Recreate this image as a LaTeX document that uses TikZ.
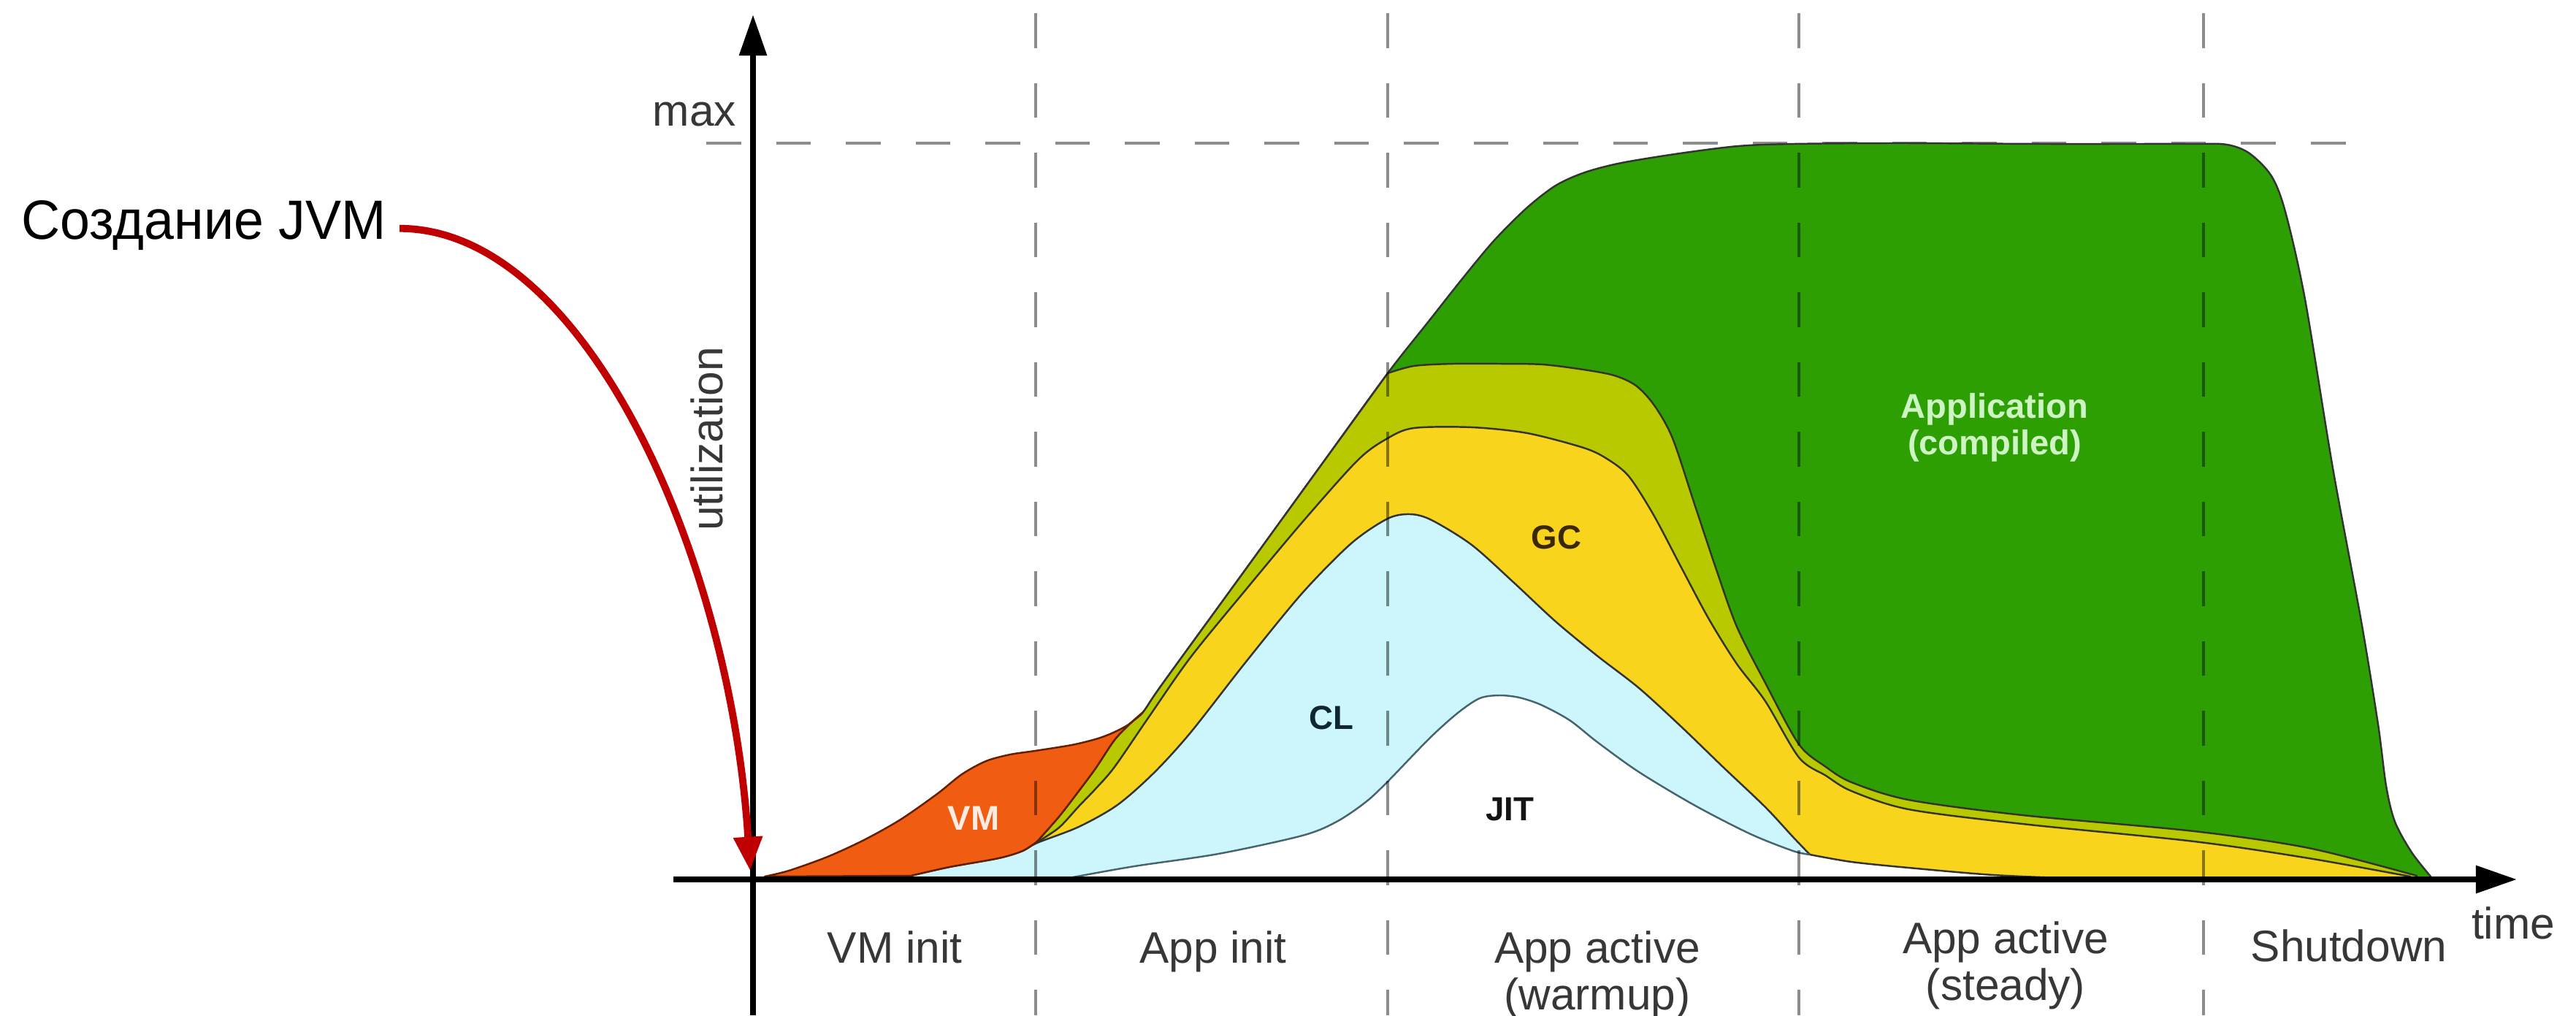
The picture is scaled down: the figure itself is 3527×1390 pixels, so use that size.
\documentclass[tikz,border=0pt]{standalone}
\usepackage{fontspec}
\setmainfont{Liberation Sans}
\newfontfamily\calloutfont[FakeStretch=0.97]{Liberation Sans}
\usetikzlibrary{arrows.meta}

\definecolor{appgreen}{RGB}{46,159,2}
\definecolor{gcolive}{RGB}{184,201,0}
\definecolor{gcyellow}{RGB}{248,212,28}
\definecolor{clcyan}{RGB}{204,246,251}
\definecolor{vmorange}{RGB}{240,92,18}
\definecolor{vmedge}{RGB}{100,30,0}
\definecolor{jitline}{RGB}{70,100,110}
\definecolor{jvmred}{RGB}{192,0,0}
\definecolor{labelgray}{RGB}{55,55,55}
\definecolor{apptext}{RGB}{205,245,195}

\begin{document}
\begin{tikzpicture}[x=0.005cm,y=-0.005cm,
  area/.style={draw=black!80, line width=0.35pt, line join=round},
  phase/.style={draw=black, draw opacity=0.45, line width=0.5pt, dash pattern=on 6.8pt off 6.8pt},
  axisline/.style={line width=1.1pt, -{Triangle[length=8pt,width=5.2pt]}},
  lbl/.style={font=\fontsize{8.6}{10}\selectfont, text=labelgray, inner sep=0pt},
  blbl/.style={font=\fontsize{6.5}{7}\selectfont\bfseries, inner sep=0pt},
]
\useasboundingbox (0,0) rectangle (3527,1390);

% level of full utilisation
\draw[phase] (967,196) -- (3240,196);

% Application (compiled): outer envelope
\filldraw[area, fill=appgreen] plot[smooth] coordinates {(1420,1152) (1450,1118) (1477,1083) (1500,1052) (1526,1013) (1548,990) (1565,975) (1591,937) (1700,787) (1800,649) (1900,511) (1956,440) (2001,383) (2045,330) (2090,285) (2130,254) (2170,236) (2220,223) (2300,210) (2380,200) (2456,197) (2600,196) (2800,197) (3000,197) (3049,198) (3080,210) (3110,241) (3129,290) (3156,410) (3194,641) (3233,851) (3256,992) (3267,1076) (3279,1125) (3302,1167) (3328,1200)} -- (3328,1204) -- (1420,1204) -- cycle;

% interpreted application code band
\filldraw[area, fill=gcolive]
  plot[smooth] coordinates {(1420,1152) (1450,1118) (1477,1083) (1500,1052) (1526,1013) (1548,990) (1565,975) (1591,937) (1700,787) (1800,649) (1900,511)}
  -- plot[smooth] coordinates {(1900,511) (1936,501) (1990,498) (2053,498) (2112,499) (2168,506) (2210,514) (2240,528) (2265,555) (2290,600) (2320,690) (2350,780) (2378,858) (2417,935) (2463,1019) (2500,1050) (2535,1071) (2613,1095) (2769,1116) (3004,1138) (3161,1161) (3309,1199)}
  -- (3309,1204) -- (1420,1204) -- cycle;

% GC
\filldraw[area, fill=gcyellow] plot[smooth] coordinates {(1420,1153) (1450,1133) (1477,1104) (1500,1080) (1526,1050) (1572,983) (1630,900) (1706,807) (1783,715) (1859,630) (1900,600) (1936,586) (2015,585) (2091,593) (2168,613) (2200,628) (2230,652) (2264,705) (2302,777) (2340,848) (2378,909) (2417,960) (2463,1037) (2500,1062) (2535,1083) (2613,1108) (2769,1128) (3004,1152) (3161,1175) (3300,1200)} -- (3300,1204) -- (1420,1204) -- cycle;

% CL
\filldraw[area, fill=clcyan] plot[smooth] coordinates {(1247,1199) (1300,1187) (1367,1175) (1400,1165) (1420,1154) (1477,1132) (1530,1102) (1580,1058) (1630,1003) (1706,906) (1783,812) (1850,744) (1900,710) (1931,704) (1960,712) (2015,746) (2072,797) (2130,851) (2187,898) (2244,942) (2302,995) (2359,1050) (2417,1105) (2455,1146) (2478,1170)} -- (2478,1204) -- (1247,1204) -- cycle;

% JIT
\fill[white] plot[smooth] coordinates {(1469,1201) (1553,1186) (1668,1169) (1783,1144) (1830,1125) (1870,1098) (1900,1070) (1957,1011) (1996,976) (2026,956) (2053,952) (2080,955) (2110,965) (2149,986) (2187,1016) (2244,1057) (2321,1103) (2397,1142) (2455,1165) (2478,1170) (2535,1180) (2613,1188) (2730,1198) (2848,1203)} -- (2848,1204) -- (1469,1204) -- cycle;
\draw[jitline, line width=0.35pt] plot[smooth] coordinates {(1469,1201) (1553,1186) (1668,1169) (1783,1144) (1830,1125) (1870,1098) (1900,1070) (1957,1011) (1996,976) (2026,956) (2053,952) (2080,955) (2110,965) (2149,986) (2187,1016) (2244,1057) (2321,1103) (2397,1142) (2455,1165) (2478,1170)};
\draw[area] plot[smooth] coordinates {(2478,1170) (2535,1180) (2613,1188) (2730,1198) (2848,1203)};

% VM
\filldraw[draw=vmedge, line width=0.35pt, line join=round, fill=vmorange]
  plot[smooth] coordinates {(1047,1200) (1080,1192) (1133,1173) (1183,1150) (1233,1122) (1283,1087) (1317,1060) (1350,1042) (1383,1033) (1417,1028) (1467,1020) (1500,1012) (1522,1004) (1545,992) (1565,975)}
  -- plot[smooth] coordinates {(1565,975) (1548,990) (1526,1013) (1500,1052) (1477,1083) (1450,1118) (1420,1152)}
  -- plot[smooth] coordinates {(1420,1152) (1400,1165) (1367,1175) (1300,1187) (1247,1199)}
  -- cycle;

% phase boundaries
\foreach \px in {1418,1900,2463,3017} \draw[phase] (\px,18) -- (\px,1390);

% axes
\coordinate (origin) at (1031,1204);
\draw[axisline] (1031,1390) -- (1031,20);
\draw[axisline] (922,1204) -- (3446,1204);

% area labels
\node[blbl, text={rgb,255:red,255;green,235;blue,225}, font=\fontsize{6.7}{7}\selectfont\bfseries] (vm) at (1333,1120) {VM};
\node[blbl, text={rgb,255:red,15;green,40;blue,48}] (cl) at (1823,983) {CL};
\node[blbl, text={rgb,255:red,60;green,40;blue,0}] (gc) at (2131,736) {GC};
\node[blbl, text={rgb,255:red,20;green,20;blue,20}] (jit) at (2067,1108) {JIT};
\node[blbl, text=apptext, font=\fontsize{6.7}{7}\selectfont\bfseries, anchor=base] (app1) at (2731,572) {Application};
\node[blbl, text=apptext, font=\fontsize{6.7}{7}\selectfont\bfseries, anchor=base] (app2) at (2731,622) {(compiled)};

% axis labels
\node[lbl, anchor=base] (maxlbl) at (951,172) {max};
\node[lbl, anchor=base, rotate=90] (util) at (989,601) {utilization};
\node[lbl, anchor=base] (timelbl) at (3441,1285) {time};

% phase names
\node[lbl, anchor=base] (ph1) at (1225,1318) {VM init};
\node[lbl, anchor=base] (ph2) at (1661,1318) {App init};
\node[lbl, anchor=base] (ph3a) at (2187,1318) {App active};
\node[lbl, anchor=base] (ph3b) at (2187,1382) {(warmup)};
\node[lbl, anchor=base] (ph4a) at (2746,1305) {App active};
\node[lbl, anchor=base] (ph4b) at (2746,1369) {(steady)};
\node[lbl, anchor=base] (ph5) at (3216,1316) {Shutdown};

% JVM creation callout
\node[font=\calloutfont\fontsize{10.8}{12}\selectfont, anchor=base west, inner sep=0pt] (jvm) at (28,327.5) {Создание JVM};
\coordinate (jvmstart) at (1027,1192);
\draw[jvmred, line width=1.4pt, -{Triangle[length=6.6pt,width=5.4pt]}]
  ([xshift=2.4pt,yshift=2.1pt]jvm.base east) .. controls (800,313) and (1000,760) .. (jvmstart);
\end{tikzpicture}
\end{document}
